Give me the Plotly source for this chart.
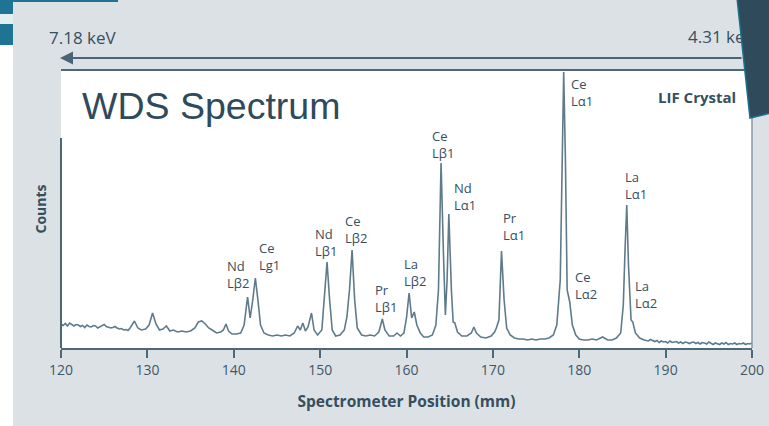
import plotly.graph_objects as go

# ---------------- data ----------------
position_mm = [
    120.0, 120.25, 120.5, 120.75, 121.0, 121.25, 121.5, 121.75, 122.0, 122.25,
    122.5, 122.75, 123.0, 123.25, 123.5, 123.75, 124.0, 124.25, 124.5, 124.75,
    125.0, 125.25, 125.5, 125.75, 126.0, 126.25, 126.5, 126.75, 127.0, 127.25,
    127.5, 127.75, 128.0,
    128.5, 128.9, 129.3,
    129.8, 130.2, 130.6, 131.0, 131.4, 131.8, 132.2, 132.6, 133.0, 133.5,
    134.0, 134.5, 135.0, 135.5, 135.9, 136.3, 136.7, 137.1, 137.5, 138.0,
    138.5, 138.8, 139.1, 139.4, 139.8, 140.3, 140.8, 141.2, 141.6, 141.9,
    142.2, 142.5, 142.8, 143.1, 143.5, 144.0, 144.5, 145.0, 145.5, 146.0,
    146.5, 147.0, 147.4, 147.7, 148.0, 148.3, 148.6, 149.0, 149.3, 149.7,
    150.2, 150.5, 150.8, 151.1, 151.4, 151.8, 152.3, 152.8, 153.1, 153.4,
    153.7, 154.0, 154.3, 154.8, 155.3, 155.8, 156.3, 156.8, 157.2, 157.5,
    158.0, 158.5, 158.9, 159.3, 159.7, 160.0, 160.3, 160.6, 160.9, 161.2,
    161.6, 162.0, 162.5, 163.0, 163.4, 163.7, 164.0, 164.3, 164.5, 164.7,
    164.9, 165.2, 165.4, 165.6, 165.9, 166.4, 167.0, 167.5, 167.8, 168.1,
    168.6, 169.2, 169.8, 170.2, 170.4, 170.7, 171.0, 171.3, 171.6, 172.0,
    172.5, 173.0, 173.5, 174.0, 174.5, 175.0, 175.5, 176.0, 176.5, 177.0,
    177.4, 177.8, 178.0, 178.2, 178.4, 178.6, 178.9, 179.2, 179.6, 180.0,
    180.5, 181.0, 181.5, 182.0, 182.7, 183.3, 183.8, 184.3, 184.8, 185.1,
    185.3, 185.5, 185.7, 185.9, 186.0, 186.2, 186.5, 187.0, 187.5,
    188.0, 188.25, 188.5, 188.75, 189.0, 189.25, 189.5, 189.75, 190.0, 190.25,
    190.5, 190.75, 191.0, 191.25, 191.5, 191.75, 192.0, 192.25, 192.5, 192.75,
    193.0, 193.25, 193.5, 193.75, 194.0, 194.25, 194.5, 194.75, 195.0, 195.25,
    195.5, 195.75, 196.0, 196.25, 196.5, 196.75, 197.0, 197.25, 197.5, 197.75,
    198.0, 198.25, 198.5, 198.75, 199.0, 199.25, 199.5, 199.75, 200.0,
]
counts = [
    240, 225, 245, 220, 250, 230, 220, 235, 230, 215,
    225, 205, 230, 215, 210, 225, 220, 200, 210, 225,
    235, 215, 210, 200, 205, 215, 200, 190, 195, 180,
    185, 175, 200,
    270, 200, 180,
    190, 230, 350, 240, 180, 190, 220, 170, 180, 160,
    170, 160, 170, 200, 260, 270, 240, 200, 180, 150,
    160, 180, 240, 170, 140, 140, 150, 230, 510, 300,
    480, 700, 480, 230, 150, 130, 120, 130, 120, 130,
    120, 150, 220, 180, 250, 170, 210, 350, 180, 130,
    180, 480, 860, 480, 180, 120, 130, 180, 310, 580,
    980, 480, 200, 130, 120, 130, 120, 160, 290, 180,
    120, 120, 150, 120, 150, 300, 550, 300, 360, 230,
    150, 110, 110, 130, 230, 580, 1850, 880, 330, 680,
    1340, 580, 260, 250, 160, 120, 120, 150, 210, 150,
    110, 100, 120, 160, 200, 280, 970, 480, 200, 130,
    100, 90, 90, 80, 90, 80, 90, 90, 100, 130,
    230, 680, 1980, 2760, 1880, 580, 460, 230, 130, 90,
    80, 80, 90, 80, 110, 80, 80, 100, 150, 430,
    980, 1430, 830, 380, 280, 260, 150, 100, 80,
    70, 85, 75, 65, 75, 55, 70, 60, 65, 50,
    70, 55, 60, 65, 50, 60, 45, 60, 55, 45,
    55, 60, 45, 55, 40, 55, 50, 40, 60, 45,
    35, 50, 45, 35, 50, 40, 55, 35, 45, 40,
    50, 35, 45, 40, 50, 35, 45, 40, 50,
]
assert len(position_mm) == len(counts)

peak_labels = ["Nd<br>Lβ2", "Ce<br>Lg1", "Nd<br>Lβ1", "Ce<br>Lβ2", "Pr<br>Lβ1",
               "La<br>Lβ2", "Ce<br>Lβ1", "Nd<br>Lα1", "Pr<br>Lα1", "Ce<br>Lα1",
               "Ce<br>Lα2", "La<br>Lα1", "La<br>Lα2"]
# label anchor (left edge in mm, vertical centre in counts)
label_x = [139.0, 142.7, 149.17, 152.65, 156.12, 159.48, 162.72, 165.27,
           170.94, 178.81, 179.28, 185.07, 186.22]
label_y = [740, 920, 1060, 1190, 500, 760, 2040, 1520, 1220, 2560, 630, 1630, 540]

x_ticks = [120, 130, 140, 150, 160, 170, 180, 190, 200]

# ---------------- styling ----------------
W, H = 769, 426
L, R, T, B = 61, 752, 70, 348
TEXT = "#36505f"
LINE = "#4f6878"
SPEC = "#5f7b8b"
BG = "#dce1e5"


def px(x):
    return x / W


def py(y):
    return 1 - y / H


fig = go.Figure()
fig.add_trace(go.Scatter(x=position_mm, y=counts, mode="lines",
                         line=dict(color=SPEC, width=1.6), hoverinfo="skip",
                         showlegend=False))
# energy label at the right end of the arrow (trace layer, so the dark slide shape hides part of it)
fig.add_trace(go.Scatter(x=[688], y=[39], xaxis="x2", yaxis="y2",
                         mode="text", text=["4.31 keV"], textposition="middle right",
                         textfont=dict(family="Open Sans", size=17, color=TEXT),
                         cliponaxis=False, showlegend=False, hoverinfo="skip"))

shapes = [
    # white plot area
    dict(type="rect", xref="paper", yref="paper", x0=px(L), x1=px(R), y0=py(B), y1=py(T),
         fillcolor="white", line_width=0, layer="below"),
    # white strip on the far left
    dict(type="rect", xref="paper", yref="paper", x0=px(0), x1=px(13), y0=py(426), y1=py(45),
         fillcolor="white", line_width=0, layer="below"),
    # teal slide corner
    dict(type="rect", xref="paper", yref="paper", x0=px(0), x1=px(13), y0=py(45), y1=py(0),
         fillcolor="#1f7393", line_width=0, layer="above"),
    dict(type="rect", xref="paper", yref="paper", x0=px(0), x1=px(13), y0=py(24), y1=py(14),
         fillcolor="#e2eef2", line_width=0, layer="above"),
    dict(type="rect", xref="paper", yref="paper", x0=px(13), x1=px(118), y0=py(2), y1=py(0),
         fillcolor="#1f7393", line_width=0, layer="above"),
    # plot frame
    dict(type="line", xref="paper", yref="paper", x0=px(L), x1=px(R), y0=py(T), y1=py(T),
         line=dict(color=LINE, width=2), layer="above"),
    dict(type="line", xref="paper", yref="paper", x0=px(R), x1=px(R), y0=py(T), y1=py(B),
         line=dict(color="#8798a3", width=1.5), layer="above"),
    dict(type="line", xref="paper", yref="paper", x0=px(L), x1=px(L), y0=py(138), y1=py(B),
         line=dict(color=LINE, width=2), layer="above"),
    # dark slide decoration top-right
    dict(type="path", xref="paper", yref="paper",
         path=f"M {px(737)},{py(-2)} L {px(771)},{py(-2)} L {px(771)},{py(113)} L {px(750)},{py(118)} Z",
         fillcolor="#2e4a5b", line=dict(color="#1e6f8a", width=1.5), layer="above"),
]

annotations = [
    dict(xref="paper", yref="paper", x=px(60), y=py(58), ax=683, ay=0, text="",
         showarrow=True, arrowhead=2, arrowsize=1.3, arrowwidth=2, arrowcolor="#4b6475"),
    dict(xref="paper", yref="paper", x=px(47), y=py(38), xanchor="left", yanchor="middle",
         text="7.18 keV", showarrow=False, font=dict(family="Open Sans", size=17, color=TEXT)),
    dict(xref="paper", yref="paper", x=px(80), y=py(106), xanchor="left", yanchor="middle",
         text="WDS Spectrum", showarrow=False,
         font=dict(family="Liberation Sans, Arial", size=37.5, color="#2f4a5a")),
    dict(xref="paper", yref="paper", x=px(697), y=py(97), xanchor="center", yanchor="middle",
         text="LIF Crystal", showarrow=False,
         font=dict(family="Open Sans", size=15, color="#34505f", weight="bold")),
]
for t, lx, ly in zip(peak_labels, label_x, label_y):
    annotations.append(dict(xref="x", yref="y", x=lx, y=ly, xanchor="left", yanchor="middle",
                            align="left", text=t, showarrow=False,
                            font=dict(family="Open Sans", size=13, color=TEXT)))

fig.update_layout(
    width=W, height=H,
    margin=dict(l=0, r=0, t=0, b=0),
    paper_bgcolor=BG, plot_bgcolor="rgba(0,0,0,0)",
    shapes=shapes, annotations=annotations,
    xaxis=dict(domain=[px(L), px(R)], anchor="y", range=[120, 200], tickvals=x_ticks,
               showgrid=False, zeroline=False, automargin=False,
               showline=True, linecolor=LINE, linewidth=2,
               ticks="outside", ticklen=8, tickwidth=2, tickcolor=LINE,
               tickfont=dict(family="Open Sans", size=14, color="#3f5868"),
               title=dict(text="Spectrometer Position (mm)", standoff=18,
                          font=dict(family="Open Sans", size=15.5, color="#34505f", weight="bold"))),
    yaxis=dict(domain=[py(B), py(T)], anchor="x", range=[0, 2780], showgrid=False,
               zeroline=False, showline=False, automargin=False,
               showticklabels=False, ticks="",
               title=dict(text="Counts", standoff=10,
                          font=dict(family="Open Sans", size=14, color="#34505f", weight="bold"))),
    xaxis2=dict(domain=[0, 1], anchor="y2", range=[0, W], visible=False, fixedrange=True),
    yaxis2=dict(domain=[0, 1], anchor="x2", range=[H, 0], visible=False, fixedrange=True),
    showlegend=False,
)

fig.write_html("out.html")
